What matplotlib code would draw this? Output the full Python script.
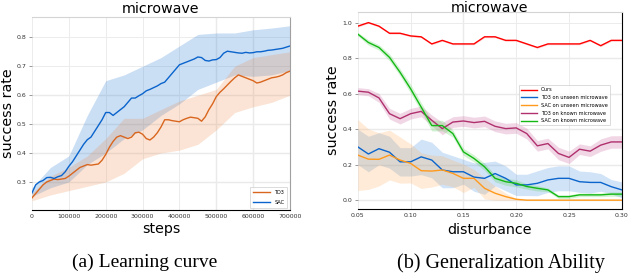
#!/usr/bin/env python3
"""Learning curve and generalization plot for the microwave task."""

import numpy as np
import matplotlib
matplotlib.use("Agg")
import matplotlib.pyplot as plt

# ---- (a) learning curve -------------------------------------------------
steps = np.arange(0, 700001, 10000)
sac_mean = [0.262, 0.29, 0.30, 0.305, 0.315, 0.316, 0.312, 0.318, 0.322, 0.335,
            0.354, 0.37, 0.39, 0.41, 0.43, 0.446, 0.455, 0.475, 0.495, 0.515,
            0.54, 0.54, 0.53, 0.54, 0.55, 0.56, 0.575, 0.59, 0.59, 0.598,
            0.605, 0.615, 0.62, 0.626, 0.632, 0.64, 0.645, 0.66, 0.675, 0.69,
            0.705, 0.71, 0.715, 0.72, 0.725, 0.732, 0.73, 0.72, 0.718, 0.722,
            0.723, 0.73, 0.745, 0.752, 0.75, 0.748, 0.746, 0.745, 0.748, 0.746,
            0.747, 0.75, 0.75, 0.752, 0.755, 0.756, 0.758, 0.76, 0.762, 0.766,
            0.77]
td3_mean = [0.245, 0.26, 0.275, 0.29, 0.30, 0.305, 0.31, 0.308, 0.31, 0.312,
            0.32, 0.33, 0.34, 0.35, 0.355, 0.36, 0.358, 0.36, 0.362, 0.375,
            0.395, 0.42, 0.44, 0.455, 0.46, 0.455, 0.45, 0.455, 0.47, 0.472,
            0.465, 0.45, 0.445, 0.455, 0.47, 0.49, 0.515, 0.515, 0.512, 0.51,
            0.508, 0.515, 0.52, 0.524, 0.522, 0.52, 0.51, 0.525, 0.55, 0.57,
            0.595, 0.61, 0.622, 0.635, 0.648, 0.66, 0.67, 0.665, 0.66, 0.655,
            0.65, 0.642, 0.645, 0.65, 0.655, 0.66, 0.662, 0.665, 0.67, 0.678,
            0.683]

band_steps = np.arange(0, 700001, 50000)
sac_low = [0.25, 0.28, 0.30, 0.36, 0.40, 0.45, 0.48, 0.53, 0.57, 0.62, 0.645,
           0.67, 0.665, 0.67, 0.685]
sac_high = [0.28, 0.35, 0.39, 0.53, 0.65, 0.67, 0.70, 0.73, 0.77, 0.81, 0.815,
            0.815, 0.826, 0.832, 0.84]
td3_low = [0.235, 0.255, 0.27, 0.285, 0.30, 0.33, 0.38, 0.40, 0.41, 0.43, 0.48,
           0.54, 0.56, 0.575, 0.60]
td3_high = [0.262, 0.32, 0.35, 0.39, 0.45, 0.52, 0.52, 0.55, 0.58, 0.60, 0.62,
            0.70, 0.73, 0.74, 0.75]

# ---- (b) generalization --------------------------------------------------
disturbance = np.round(np.arange(0.05, 0.3001, 0.01), 2)
ours = [0.98, 1.0, 0.98, 0.94, 0.94, 0.925, 0.92, 0.88, 0.90, 0.88, 0.88, 0.88,
        0.92, 0.92, 0.90, 0.90, 0.88, 0.86, 0.88, 0.88, 0.88, 0.88, 0.90, 0.87,
        0.90, 0.90]
ours_std = [0.005] * 26
td3_unseen = [0.30, 0.26, 0.29, 0.27, 0.216, 0.216, 0.244, 0.226, 0.17, 0.16,
              0.16, 0.13, 0.123, 0.15, 0.123, 0.086, 0.086, 0.095, 0.114, 0.123,
              0.123, 0.104, 0.10, 0.10, 0.076, 0.058]
td3_unseen_std = [0.10, 0.10, 0.09, 0.09, 0.08, 0.08, 0.10, 0.10, 0.10, 0.09,
                  0.07, 0.08, 0.09, 0.07, 0.07, 0.06, 0.06, 0.07, 0.07, 0.07,
                  0.07, 0.06, 0.06, 0.05, 0.04, 0.045]
sac_unseen = [0.254, 0.231, 0.23, 0.254, 0.226, 0.207, 0.166, 0.164, 0.17,
              0.151, 0.123, 0.123, 0.067, 0.039, 0.02, 0.005, 0.0, 0.0, 0.0,
              0.0, 0.0, 0.0, 0.0, 0.0, 0.0, 0.0]
sac_unseen_std = [0.20, 0.17, 0.15, 0.14, 0.13, 0.11, 0.10, 0.09, 0.08, 0.075,
                  0.08, 0.05, 0.06, 0.04, 0.02, 0.005, 0.0, 0.0, 0.0, 0.0, 0.0,
                  0.0, 0.0, 0.0, 0.0, 0.0]
td3_known = [0.614, 0.608, 0.576, 0.487, 0.459, 0.487, 0.50, 0.45, 0.403, 0.44,
             0.446, 0.437, 0.444, 0.416, 0.403, 0.407, 0.375, 0.306, 0.319,
             0.263, 0.241, 0.287, 0.276, 0.31, 0.328, 0.328]
td3_known_std = [0.02, 0.02, 0.025, 0.03, 0.03, 0.03, 0.03, 0.03, 0.035, 0.03,
                 0.03, 0.03, 0.03, 0.03, 0.03, 0.03, 0.03, 0.03, 0.03, 0.035,
                 0.035, 0.03, 0.03, 0.035, 0.035, 0.035]
sac_known = [0.935, 0.888, 0.86, 0.804, 0.72, 0.627, 0.524, 0.42, 0.42, 0.375,
             0.272, 0.235, 0.188, 0.123, 0.104, 0.095, 0.077, 0.067, 0.058,
             0.02, 0.02, 0.03, 0.03, 0.03, 0.034, 0.034]
sac_known_std = [0.01, 0.015, 0.015, 0.02, 0.02, 0.025, 0.025, 0.03, 0.03,
                 0.02, 0.02, 0.02, 0.02, 0.02, 0.02, 0.02, 0.015, 0.015, 0.01,
                 0.01, 0.01, 0.01, 0.01, 0.01, 0.012, 0.012]

BLUE = "#0a64cc"
ORANGE = "#d9661f"


def style_axis(ax, right_color):
    ax.spines["left"].set_visible(False)
    ax.spines["top"].set_color("#d4d4d4")
    ax.spines["right"].set_color(right_color)
    ax.spines["bottom"].set_color("black")
    ax.tick_params(axis="both", labelsize=4.5, colors="#333333")
    ax.tick_params(axis="y", length=2.5, width=0.6, color="#888888", pad=1.5)
    ax.tick_params(axis="x", length=0, pad=3)
    ax.grid(True, color="#ececec", linewidth=0.7)
    ax.set_axisbelow(True)


fig = plt.figure(figsize=(6.3, 2.78), dpi=100)
ax1 = fig.add_axes([0.0508, 0.2446, 0.4095, 0.694])
ax2 = fig.add_axes([0.568, 0.248, 0.419, 0.709])

# (a)
style_axis(ax1, "#a0a0a0")
for y in [0.3, 0.4, 0.5, 0.6]:
    ax1.axhline(y, color="#b4b4b4", linewidth=0.8, zorder=0.5)
for x in [500000, 600000]:
    ax1.axvline(x, color="#b4b4b4", linewidth=0.8, zorder=0.5)
ax1.fill_between(band_steps, sac_low, sac_high, color="#2f7fd6", alpha=0.25,
                 linewidth=0)
ax1.fill_between(band_steps, td3_low, td3_high, color="#ee8844", alpha=0.22,
                 linewidth=0)
ax1.plot(steps, td3_mean, color=ORANGE, linewidth=1.0, label="TD3")
ax1.plot(steps, sac_mean, color=BLUE, linewidth=1.0, label="SAC")
ax1.set_xlim(0, 700000)
ax1.set_ylim(0.203, 0.87)
ax1.set_xticks(np.arange(0, 700001, 100000))
ax1.set_xticklabels([str(v) for v in range(0, 700001, 100000)])
ax1.set_yticks([0.3, 0.4, 0.5, 0.6, 0.7, 0.8])
ax1.set_title("microwave", fontsize=10.3, pad=3)
ax1.set_xlabel("steps", fontsize=10.3)
ax1.set_ylabel("success rate", fontsize=10.3)
ax1.xaxis.set_label_coords(0.5, -0.06)
ax1.yaxis.set_label_coords(-0.066, 0.5)
leg1 = ax1.legend(loc="lower right", fontsize=3.6, frameon=True,
                  fancybox=False, edgecolor="#cccccc", handlelength=3.5,
                  borderpad=0.6, labelspacing=0.9)
leg1.get_frame().set_linewidth(0.6)

# (b)
style_axis(ax2, "black")
for y in [0.0, 0.2, 0.4, 0.6, 0.8]:
    ax2.axhline(y, color="#b4b4b4", linewidth=0.8, zorder=0.5)
ax2.axvline(0.15, color="#b4b4b4", linewidth=0.8, zorder=0.5)

series = [
    (ours, ours_std, "#ff0000", "#ff6666", "Ours"),
    (td3_unseen, td3_unseen_std, "#0a64cc", "#4a90e0", "TD3 on unseen microwave"),
    (sac_unseen, sac_unseen_std, "#ff9a1c", "#ffb060", "SAC on unseen microwave"),
    (td3_known, td3_known_std, "#b0306e", "#c8609a", "TD3 on known microwave"),
    (sac_known, sac_known_std, "#14b814", "#50d050", "SAC on known microwave"),
]
for mean, std, color, fill, label in series:
    mean = np.array(mean)
    std = np.array(std)
    ax2.fill_between(disturbance, np.clip(mean - std, 0, None), mean + std,
                     color=fill, alpha=0.25, linewidth=0)
for mean, std, color, fill, label in series:
    ax2.plot(disturbance, mean, color=color, linewidth=1.0, label=label)

ax2.set_xlim(0.05, 0.30)
ax2.set_ylim(-0.05, 1.06)
ax2.set_xticks([0.05, 0.10, 0.15, 0.20, 0.25, 0.30])
ax2.set_xticklabels(["0.05", "0.10", "0.15", "0.20", "0.25", "0.30"])
ax2.set_yticks([0.0, 0.2, 0.4, 0.6, 0.8, 1.0])
ax2.set_yticklabels(["0.0", "0.2", "0.4", "0.6", "0.8", "1.0"])
ax2.set_xlabel("disturbance", fontsize=10.3)
ax2.set_ylabel("success rate", fontsize=10.3)
ax2.xaxis.set_label_coords(0.5, -0.07)
ax2.yaxis.set_label_coords(-0.068, 0.5)
leg2 = ax2.legend(loc="upper left", bbox_to_anchor=(0.60, 0.64), fontsize=3.6,
                  frameon=True, fancybox=False, edgecolor="#cccccc",
                  handlelength=3.2, borderpad=0.4, labelspacing=0.55)
leg2.get_frame().set_linewidth(0.6)

# right title sits tight against the top edge
fig.text(0.568 + 0.419 / 2, 0.997, "microwave", fontsize=10.3,
         ha="center", va="top")

# captions
fig.text(0.23, 0.055, "(a) Learning curve", fontsize=14,
         family="Liberation Serif", ha="center", va="center")
fig.text(0.795, 0.055, "(b) Generalization Ability", fontsize=14.5,
         family="Liberation Serif", ha="center", va="center")

fig.savefig("out.png", dpi=100)
